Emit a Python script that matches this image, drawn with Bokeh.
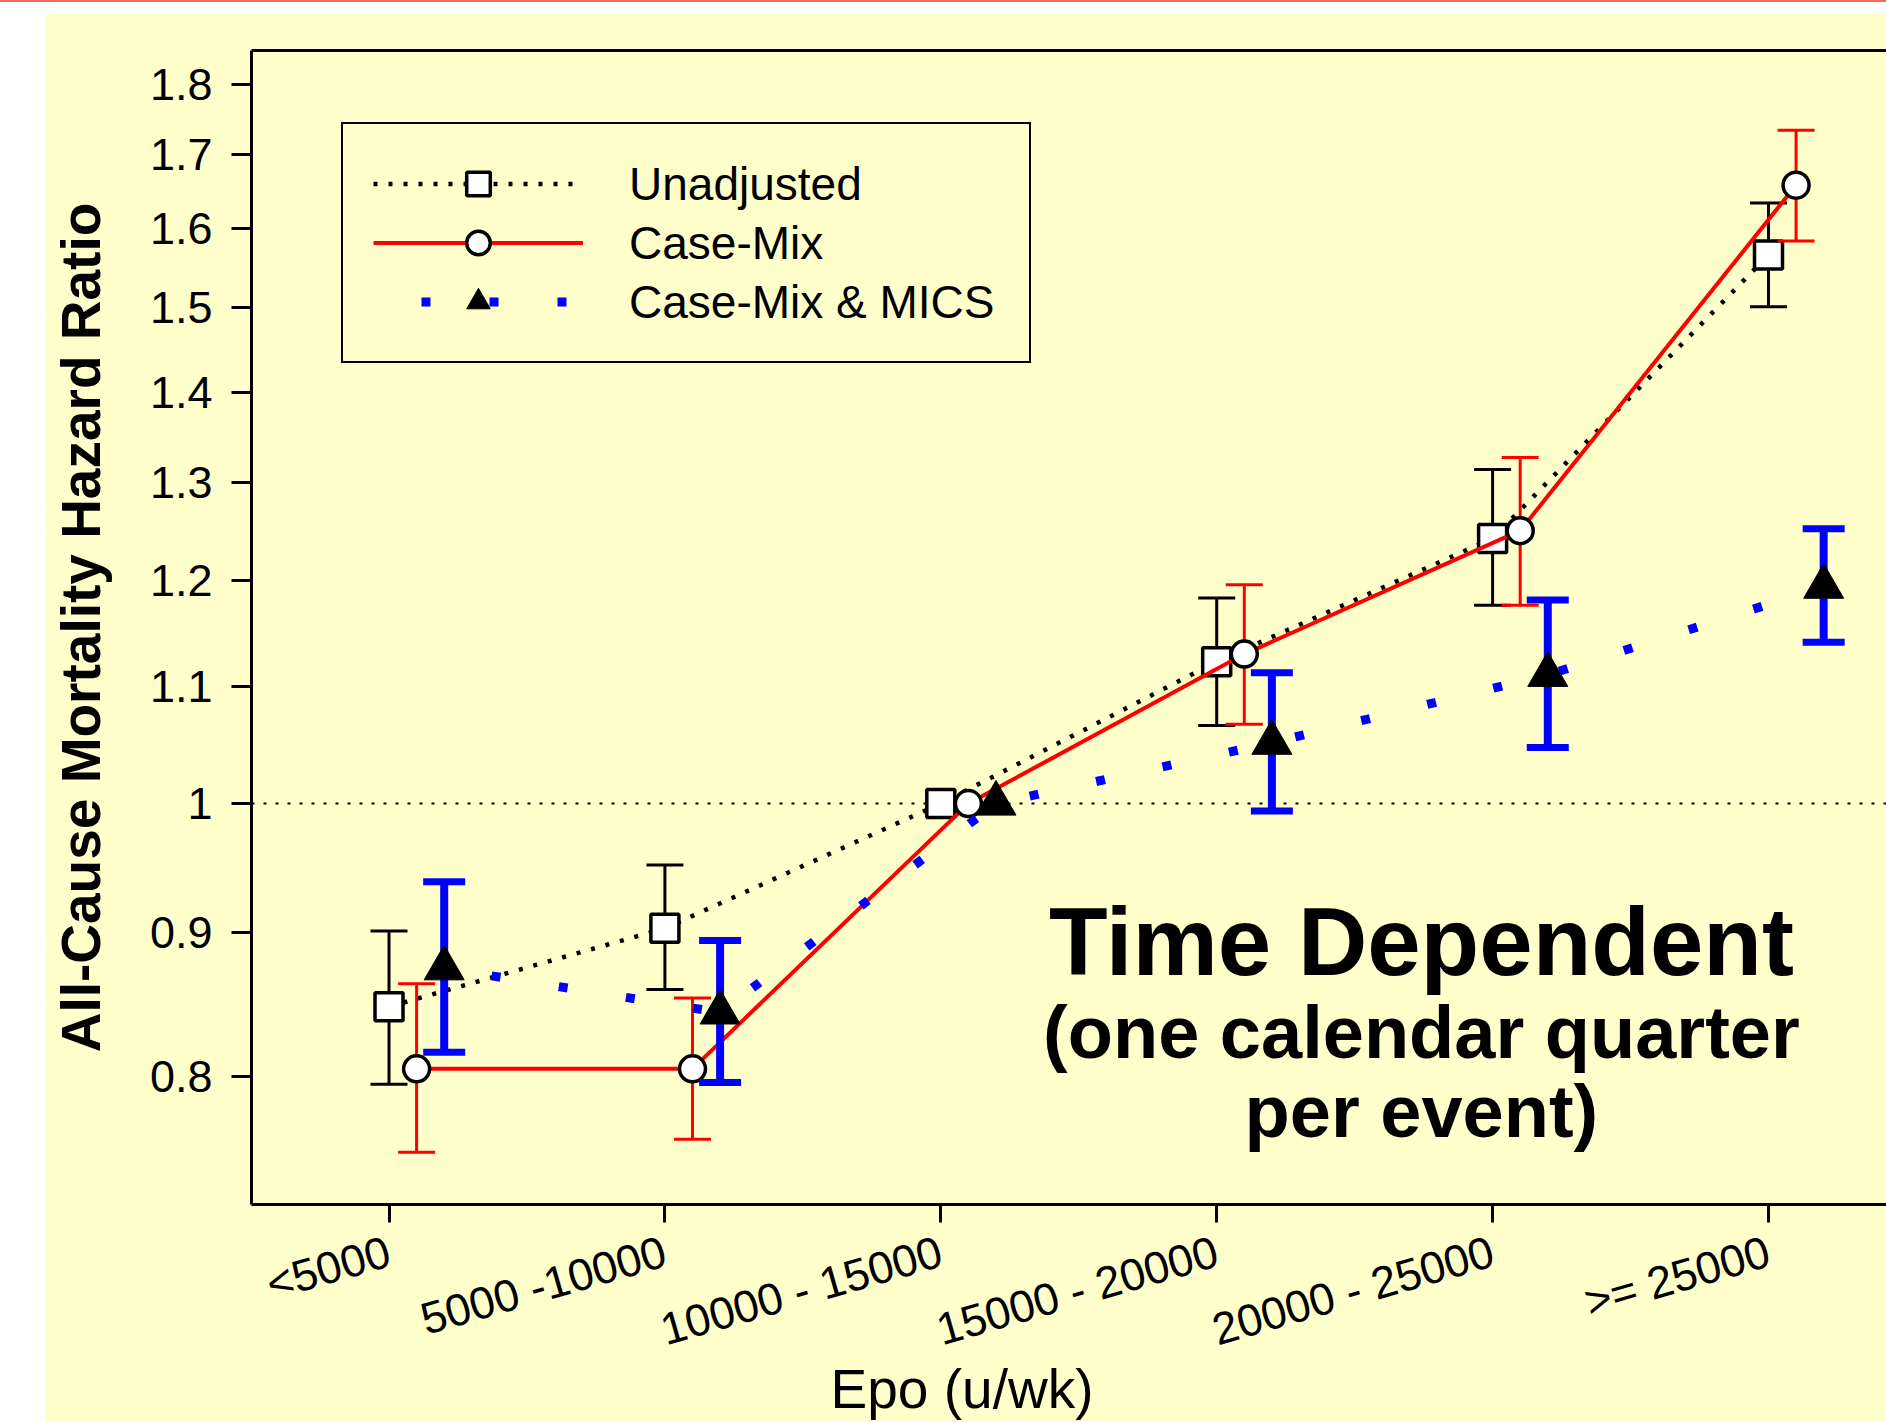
import math
import numpy as np
from bokeh.plotting import figure
from bokeh.models import (Range1d, LinearAxis, FixedTicker, Span, Label,
                          Legend, LegendItem, Spacer)
from bokeh.layouts import row, column
from bokeh.embed import file_html
from bokeh.resources import INLINE

nan = float("nan")

# ---------------- data ----------------
categories = ["<5000", "5000 -10000", "10000 - 15000", "15000 - 20000",
              "20000 - 25000", ">= 25000"]

unadj_hr = [0.847, 0.903, 1.000, 1.123, 1.242, 1.566]
unadj_lo = [0.795, 0.859, nan, 1.066, 1.176, 1.501]
unadj_hi = [0.901, 0.951, nan, 1.183, 1.314, 1.634]

casemix_hr = [0.805, 0.805, 1.000, 1.130, 1.250, 1.658]
casemix_lo = [0.752, 0.760, nan, 1.067, 1.176, 1.584]
casemix_hi = [0.863, 0.853, nan, 1.196, 1.327, 1.734]

mics_hr = [0.874, 0.843, 1.000, 1.051, 1.111, 1.194]
mics_lo = [0.816, 0.796, nan, 0.994, 1.047, 1.141]
mics_hi = [0.938, 0.894, nan, 1.113, 1.181, 1.252]

y_ticks = [0.8, 0.9, 1.0, 1.1, 1.2, 1.3, 1.4, 1.5, 1.6, 1.7, 1.8]
y_tick_labels = ["0.8", "0.9", "1", "1.1", "1.2", "1.3", "1.4", "1.5",
                 "1.6", "1.7", "1.8"]
ref_value = 1.0

series_labels = ["Unadjusted", "Case-Mix", "Case-Mix & MICS"]
x_label = "Epo (u/wk)"
y_label = "All-Cause Mortality Hazard Ratio"
note_title = "Time Dependent"
note_lines = ["(one calendar quarter", "per event)"]

# ---------------- style ----------------
BG = "#FFFFCC"
FONT = "Liberation Sans"
RED = "#FF0000"
BLUE = "#0000FF"
NBSP = "\u00a0"

idx = np.arange(len(categories), dtype=float)
x_u = idx + 0.0
x_c = idx + 0.1
x_m = idx + 0.2

p = figure(width=1841, height=1409,
           x_range=Range1d(-0.4984, 5.4277),
           y_range=Range1d(0.7205, 1.851),
           y_axis_type="log",
           output_backend="svg", toolbar_location=None,
           min_border_left=206, min_border_right=0,
           min_border_top=37, min_border_bottom=216,
           background_fill_color=BG, border_fill_color=BG,
           outline_line_color=None)
p.xgrid.visible = False
p.ygrid.visible = False

# x axis
xa = p.xaxis[0]
xa.ticker = FixedTicker(ticks=list(idx), minor_ticks=[])
xa.major_label_overrides = {int(i): c for i, c in zip(idx, categories)}
xa.major_label_orientation = math.radians(16)
xa.major_tick_out = 18
xa.major_tick_in = 0
xa.major_tick_line_width = 3
xa.minor_tick_line_color = None
xa.axis_line_width = 3
xa.major_label_text_font = FONT
xa.major_label_text_font_size = "45px"
xa.major_label_text_color = "black"
xa.major_label_standoff = 28
# the original title sits left of the frame centre: pad on the right
xa.axis_label = x_label + NBSP * 14
xa.axis_label_text_font = FONT
xa.axis_label_text_font_size = "55px"
xa.axis_label_text_font_style = "normal"
xa.axis_label_text_color = "black"
xa.axis_label_standoff = -25

# y axis
ya = p.yaxis[0]
ya.ticker = FixedTicker(ticks=y_ticks, minor_ticks=[])
ya.major_label_overrides = {t: s for t, s in zip(y_ticks, y_tick_labels)}
ya.major_tick_out = 20
ya.major_tick_in = 0
ya.major_tick_line_width = 3
ya.minor_tick_line_color = None
ya.axis_line_width = 3
ya.major_label_text_font = FONT
ya.major_label_text_font_size = "45px"
ya.major_label_text_color = "black"
ya.major_label_standoff = 19
ya.axis_label = y_label
ya.axis_label_text_font = FONT
ya.axis_label_text_font_size = "55px"
ya.axis_label_text_font_style = "bold"
ya.axis_label_text_color = "black"
ya.axis_label_standoff = 35

# top frame line
top = LinearAxis(ticker=FixedTicker(ticks=[]), axis_line_width=3,
                 major_tick_line_color=None, minor_tick_line_color=None,
                 major_label_text_font_size="0px")
p.add_layout(top, "above")

# reference line at 1
p.add_layout(Span(location=ref_value, dimension="width", line_color="black",
                  line_width=2, line_dash="3 9", level="underlay"))

# --- Unadjusted ---
u_line = p.line(x_u, unadj_hr, line_color="black", line_width=4.5,
                line_dash="4 11")
p.segment(x0=x_u, y0=unadj_lo, x1=x_u, y1=unadj_hi, line_color="black",
          line_width=3)
p.scatter(x_u, unadj_lo, marker="dash", size=37, line_color="black", line_width=3)
p.scatter(x_u, unadj_hi, marker="dash", size=37, line_color="black", line_width=3)
u_pts = p.scatter(x_u, unadj_hr, marker="square", size=28, fill_color="white",
                  line_color="black", line_width=3.5)

# --- Case-Mix ---
c_line = p.line(x_c, casemix_hr, line_color=RED, line_width=4)
p.segment(x0=x_c, y0=casemix_lo, x1=x_c, y1=casemix_hi, line_color=RED,
          line_width=3)
p.scatter(x_c, casemix_lo, marker="dash", size=37, line_color=RED, line_width=3)
p.scatter(x_c, casemix_hi, marker="dash", size=37, line_color=RED, line_width=3)
c_pts = p.scatter(x_c, casemix_hr, marker="circle", size=26, fill_color="white",
                  line_color="black", line_width=3.5)

# --- Case-Mix & MICS ---
m_line = p.line(x_m, mics_hr, line_color=BLUE, line_width=9,
                line_dash="9 59", line_dash_offset=20)
p.segment(x0=x_m, y0=mics_lo, x1=x_m, y1=mics_hi, line_color=BLUE,
          line_width=8)
p.scatter(x_m, mics_lo, marker="dash", size=42, line_color=BLUE, line_width=7)
p.scatter(x_m, mics_hi, marker="dash", size=42, line_color=BLUE, line_width=7)
m_pts = p.scatter(x_m, mics_hr, marker="triangle", size=40, fill_color="black",
                  line_color="black", line_width=1)

legend = Legend(items=[
    LegendItem(label=series_labels[0], renderers=[u_line, u_pts]),
    LegendItem(label=series_labels[1], renderers=[c_line, c_pts]),
    LegendItem(label=series_labels[2], renderers=[m_line, m_pts]),
], location=(90, 841), glyph_width=210, glyph_height=59, label_height=59,
    label_width=370, label_standoff=46, spacing=0, padding=30, margin=0,
    label_text_font=FONT, label_text_font_size="46px", label_text_color="black",
    border_line_color="black", border_line_width=2, border_line_alpha=1.0,
    background_fill_color=BG, background_fill_alpha=1.0)
p.add_layout(legend)

# annotation text
p.add_layout(Label(x=3.742, y=0.8937, text=note_title, text_align="center",
                   text_baseline="alphabetic", text_font=FONT,
                   text_font_size="96px", text_font_style="bold",
                   text_color="black"))
for txt, yy in zip(note_lines, [0.8291, 0.7772]):
    p.add_layout(Label(x=3.742, y=yy, text=txt, text_align="center",
                       text_baseline="alphabetic", text_font=FONT,
                       text_font_size="74px", text_font_style="bold",
                       text_color="black"))

layout = column(
    Spacer(width=1886, height=2, styles={"background-color": "#F0695A"}),
    Spacer(height=11),
    row(Spacer(width=45), p),
)
open("out.html", "w").write(file_html(layout, INLINE))
